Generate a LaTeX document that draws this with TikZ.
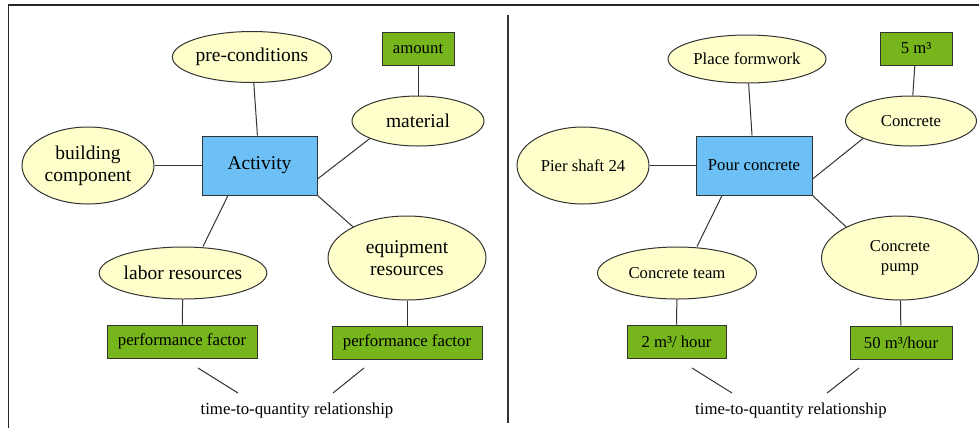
\documentclass[tikz,border=0pt]{standalone}
\usepackage{fontspec}
\setmainfont{Liberation Serif}
\usetikzlibrary{shapes.geometric}
\definecolor{yfill}{HTML}{FFFFCC}
\definecolor{bfill}{HTML}{6CC0F5}
\definecolor{gfill}{HTML}{76B51B}
\definecolor{edge}{HTML}{333333}
\tikzset{
  oval/.style={ellipse, draw=edge, line width=1pt, fill=yfill, inner sep=0pt, align=center},
  actbox/.style={rectangle, draw=edge, line width=1pt, fill=bfill, inner sep=0pt, align=center},
  valbox/.style={rectangle, draw=edge, line width=1pt, fill=gfill, inner sep=0pt, minimum height=33pt, align=center},
  link/.style={draw=edge, line width=1pt},
  big/.style={font=\fontsize{19.5}{22}\selectfont},
  small/.style={font=\fontsize{16.8}{20}\selectfont},
}
\begin{document}
\begin{tikzpicture}[x=1pt,y=-1pt]
\useasboundingbox (0,0) rectangle (979,432);
% frame
\draw[line width=1.8pt, black!85] (979,5) -- (8.5,5) -- (8.5,428);
\draw[line width=1.4pt, black!80] (508,15) -- (508,423);

% ---------- left panel ----------
\node[oval, big, minimum width=159pt, minimum height=51pt] (pre) at (252,57) {pre-conditions};
\node[valbox, small, minimum width=72pt] (amt) at (418,48.5) {amount};
\node[oval, big, minimum width=132pt, minimum height=50pt] (mat) at (418,121) {material};
\node[oval, big, minimum width=132pt, minimum height=77pt] (bc) at (88,165.5) {building\\component};
\node[actbox, big, minimum width=115pt, minimum height=59pt] (act) at (259.5,165.5) {Activity};
\node[oval, big, minimum width=158pt, minimum height=52pt] (lab) at (183,273) {labor resources};
\node[oval, big, minimum width=158pt, minimum height=84pt] (eqp) at (407,258) {equipment\\resources};
\node[valbox, small, minimum width=150pt] (pf1) at (182,341.5) {performance factor};
\node[valbox, small, minimum width=150pt] (pf2) at (407,342.5) {performance factor};
\node[small] (ttq1) at (297,410) {time-to-quantity relationship};

\draw[link] (pre) -- (act);
\draw[link] (amt) -- (mat);
\draw[link] ([yshift=-13.5pt]act.east) -- (mat.200);
\draw[link] (bc) -- (act);
\draw[link] ([xshift=-31.5pt]act.south) -- ([xshift=20pt]lab.north);
\draw[link] (act.south east) -- (eqp.150);
\draw[link] (lab) -- (pf1);
\draw[link] (eqp) -- (pf2);
\coordinate (a1) at (198,368);
\coordinate (a2) at (238,393);
\coordinate (b1) at (364,368);
\coordinate (b2) at (333,393);
\draw[link] (a1) -- (a2);
\draw[link] (b1) -- (b2);

% ---------- right panel ----------
\begin{scope}[every node/.append style={font=\fontsize{16.7}{20}\selectfont}]
\node[oval, minimum width=158pt, minimum height=48pt] (pfw) at (747,59) {Place formwork};
\node[valbox, minimum width=72pt] (vol) at (916,48.5) {5 m³};
\node[oval, minimum width=131pt, minimum height=50pt] (con) at (911,121) {Concrete};
\node[oval, minimum width=132pt, minimum height=77pt] (pier) at (583,165.5) {Pier shaft 24};
\node[actbox, minimum width=116pt, minimum height=59pt] (pour) at (754,165.5) {Pour concrete};
\node[oval, minimum width=159pt, minimum height=52pt] (team) at (677,273) {Concrete team};
\node[oval, minimum width=157pt, minimum height=84pt] (pump) at (900,258) {Concrete\\pump};
\node[valbox, minimum width=99pt] (r1) at (676.5,341.5) {2 m³/ hour};
\node[valbox, minimum width=102pt] (r2) at (901,342.5) {50 m³/hour};
\node (ttq2) at (791,410) {time-to-quantity relationship};
\end{scope}

\draw[link] (pfw) -- (pour);
\draw[link] (vol) -- (con);
\draw[link] ([yshift=-13.5pt]pour.east) -- (con.200);
\draw[link] (pier) -- (pour);
\draw[link] ([xshift=-32pt]pour.south) -- ([xshift=20pt]team.north);
\draw[link] (pour.south east) -- (pump.150);
\draw[link] (team) -- (r1);
\draw[link] (pump) -- (r2);
\coordinate (c1) at (692,368);
\coordinate (c2) at (732,393);
\coordinate (d1) at (859,368);
\coordinate (d2) at (827,393);
\draw[link] (c1) -- (c2);
\draw[link] (d1) -- (d2);
\end{tikzpicture}
\end{document}
